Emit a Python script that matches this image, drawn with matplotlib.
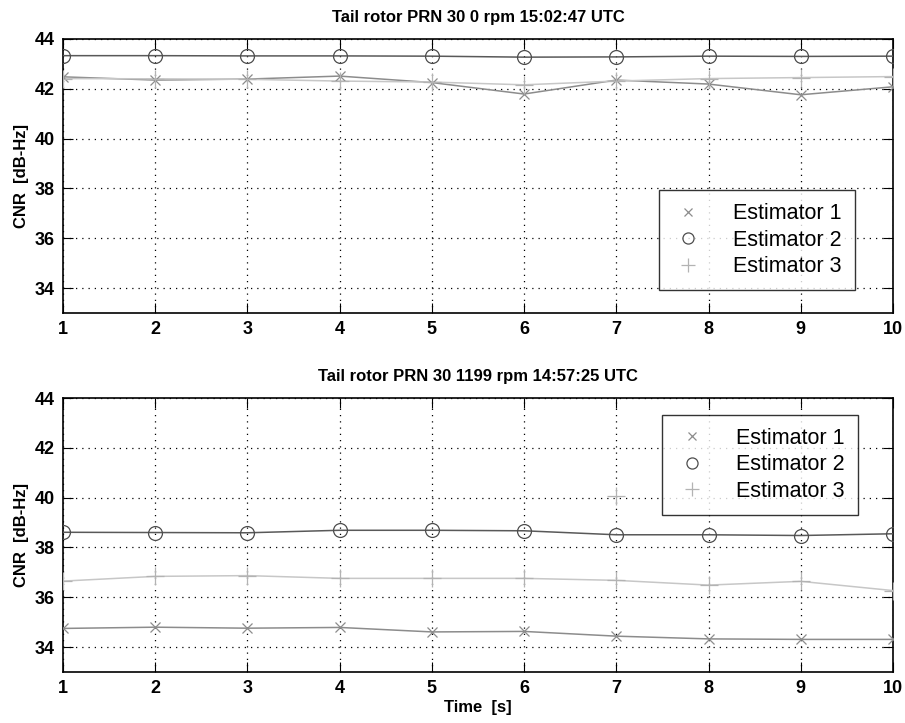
import numpy as np
import matplotlib.pyplot as plt
from matplotlib import font_manager

# time axis
t = [1, 2, 3, 4, 5, 6, 7, 8, 9, 10]

# top panel: 0 rpm
top_title = 'Tail rotor PRN 30 0 rpm 15:02:47 UTC'
top_est1 = [42.48, 42.35, 42.39, 42.51, 42.25, 41.79, 42.35, 42.19, 41.76, 42.08]
top_est2 = [43.33, 43.33, 43.32, 43.32, 43.31, 43.27, 43.28, 43.31, 43.30, 43.31]
top_est3 = [42.41, 42.40, 42.38, 42.31, 42.27, 42.16, 42.31, 42.41, 42.45, 42.49]

# bottom panel: 1199 rpm
bot_title = 'Tail rotor PRN 30 1199 rpm 14:57:25 UTC'
bot_est1 = [34.75, 34.80, 34.76, 34.79, 34.61, 34.63, 34.44, 34.33, 34.31, 34.31]
bot_est2 = [38.61, 38.60, 38.59, 38.69, 38.69, 38.67, 38.51, 38.51, 38.48, 38.55]
bot_est3 = [36.65, 36.84, 36.87, 36.76, 36.76, 36.76, 36.68, 36.49, 36.64, 36.27]
# single stray estimator 3 marker seen in the bottom panel
bot_extra_t = [7]
bot_extra_v = [40.05]

labels = ['Estimator 1', 'Estimator 2', 'Estimator 3']
yticks = [34, 36, 38, 40, 42, 44]

names = {f.name for f in font_manager.fontManager.ttflist}
narrow = 'Liberation Sans Narrow' if 'Liberation Sans Narrow' in names else 'Liberation Sans'
plt.rcParams['font.family'] = [narrow, 'DejaVu Sans']

fig = plt.figure(figsize=(9.05, 7.23), dpi=100)
ax1 = fig.add_axes([0.0695, 0.5671, 0.9172, 0.3790])
ax2 = fig.add_axes([0.0695, 0.0705, 0.9172, 0.3790])

line_cols = ['0.55', '0.35', '0.78']
mk_cols = ['0.55', '0.30', '0.70']
markers = ['x', 'o', '+']
msizes = [7, 10, 13]


def draw(ax, title, series, legend_loc, legend_anchor, extra=None):
    for i, s in enumerate(series):
        ax.plot(t, s, color=line_cols[i], linewidth=1.1, zorder=3)
    for i, s in enumerate(series):
        ax.plot(t, s, linestyle='none', marker=markers[i], markersize=msizes[i],
                markerfacecolor='none', markeredgecolor=mk_cols[i],
                markeredgewidth=0.9, label=labels[i], zorder=4)
    if extra is not None:
        ax.plot(extra[0], extra[1], linestyle='none', marker='+', markersize=msizes[2],
                markeredgecolor=mk_cols[2], markeredgewidth=0.9, zorder=4)
    ax.set_xlim(1, 10)
    ax.set_ylim(33, 44)
    ax.set_xticks(t)
    ax.set_yticks(yticks)
    ax.grid(True, color='black', linestyle=(0, (1, 4)), linewidth=0.9)
    ax.tick_params(direction='in', length=7, width=0.8, top=True, right=True,
                   labelsize=13, pad=6)
    for lab in ax.get_xticklabels() + ax.get_yticklabels():
        lab.set_fontweight('bold')
    for sp in ax.spines.values():
        sp.set_linewidth(1.2)
    ax.set_title(title, fontsize=12, fontweight='bold', pad=12)
    ax.set_ylabel('CNR  [dB-Hz]', fontsize=12, fontweight='bold', labelpad=4)
    leg = ax.legend(loc=legend_loc, bbox_to_anchor=legend_anchor,
                    frameon=True, fancybox=False, edgecolor='black',
                    borderpad=0.6, handlelength=1.55, handletextpad=1.3,
                    labelspacing=0.25, borderaxespad=0.0, markerscale=0.8,
                    prop={'family': ['Liberation Sans', 'DejaVu Sans'], 'size': 15.5})
    leg.get_frame().set_linewidth(1.0)
    leg.set_zorder(5)


draw(ax1, top_title, [top_est1, top_est2, top_est3], 'lower left', (0.718, 0.084))
draw(ax2, bot_title, [bot_est1, bot_est2, bot_est3], 'upper left', (0.722, 0.938),
     extra=(bot_extra_t, bot_extra_v))
ax2.set_xlabel('Time  [s]', fontsize=12, fontweight='bold', labelpad=2)

fig.savefig('out.png', dpi=100, facecolor='white')
